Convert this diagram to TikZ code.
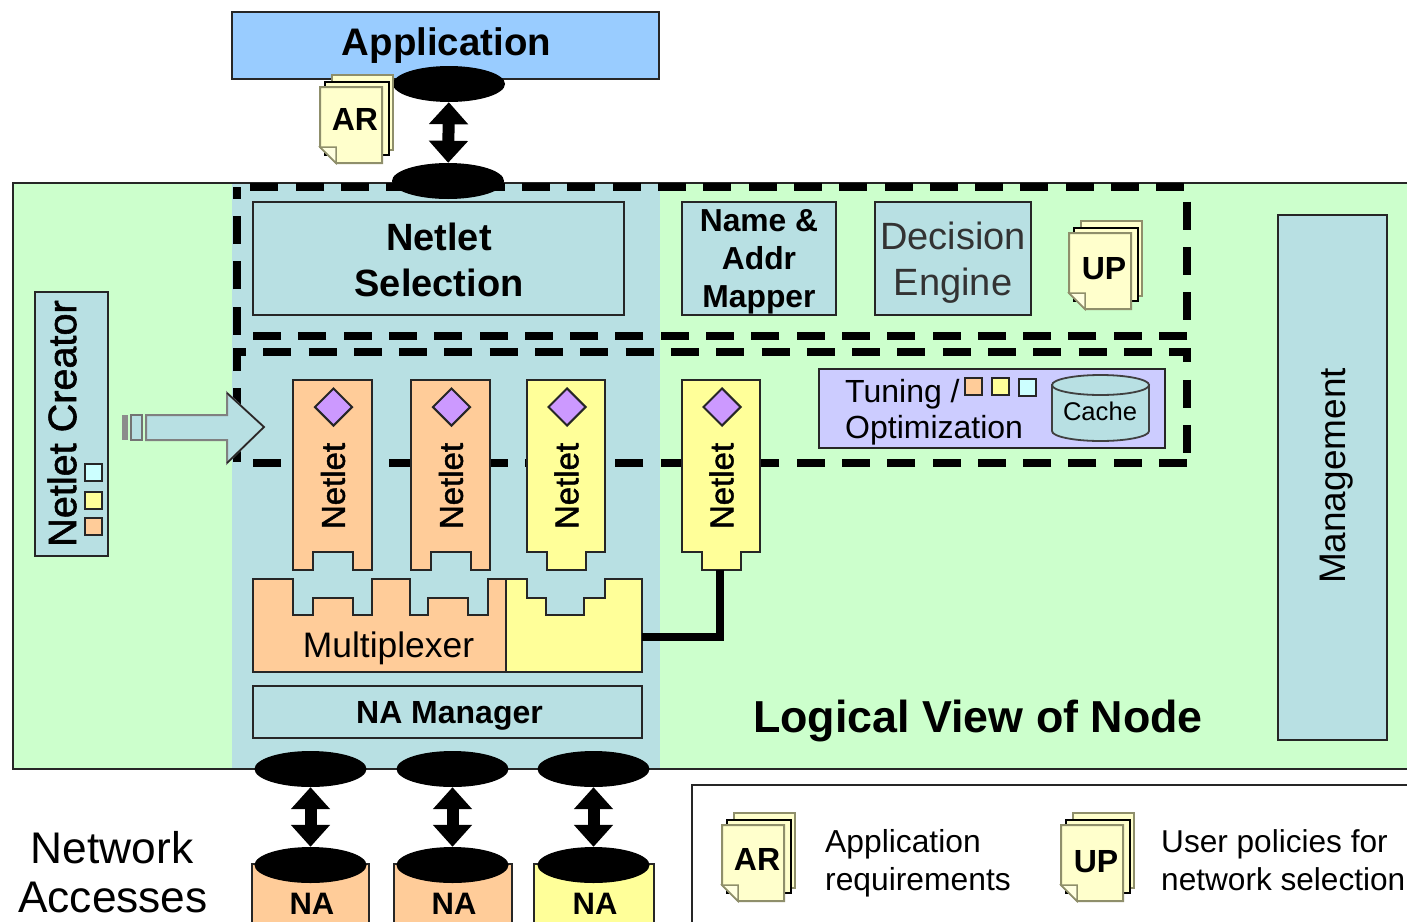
\documentclass[tikz,border=0pt]{standalone}
\usepackage{fontspec}
\setmainfont{Liberation Sans}
\newfontfamily\heavyface[FakeBold=1.4]{Liberation Sans}
\usetikzlibrary{shapes,arrows.meta,positioning}

\definecolor{nodegreen}{HTML}{CCFFCC}
\definecolor{zoneblue}{HTML}{B8E0E3}
\definecolor{appblue}{HTML}{99CCFF}
\definecolor{netorange}{HTML}{FFCC99}
\definecolor{netyellow}{HTML}{FFFF99}
\definecolor{netpurple}{HTML}{CC99FF}
\definecolor{tunelilac}{HTML}{CCCCFF}
\definecolor{netcyan}{HTML}{CCFFFF}
\definecolor{paperfill}{HTML}{FFFFCC}
\definecolor{paperedge}{HTML}{8F8F6B}

\tikzset{
  boxed/.style={draw=black!85, line width=2pt, rectangle, inner sep=0pt, align=center},
  zonebox/.style={boxed, fill=zoneblue},
  port/.style={ellipse, fill=black, inner sep=0pt, minimum width=112pt, minimum height=36pt},
  portlink/.style={line width=12pt, {Triangle[length=22pt,width=38pt]}-{Triangle[length=22pt,width=38pt]}},
  framedash/.style={line width=8.5pt, dash pattern=on 28pt off 17.3pt},
  minisquare/.style={boxed, minimum width=17pt, minimum height=17pt},
  netdiamond/.style={diamond, draw=black!85, line width=2pt, fill=netpurple, inner sep=0pt, minimum width=38pt, minimum height=38pt},
  netlabel/.style={rotate=90, inner sep=0pt, font=\heavyface\fontsize{33}{38}\selectfont},
  plain/.style={inner sep=0pt, align=left}
}

% stack of three sheets: name, x, y, label, label height
\newcommand{\sheetstack}[5]{
  \begin{scope}[shift={(#2,#3)}]
    \draw[line width=2pt, draw=paperedge, fill=paperfill] (12,-12) rectangle (73,63);
    \draw[line width=2pt, draw=black, fill=paperfill] (5,-5) rectangle (69,68);
    \draw[line width=2pt, draw=paperedge, fill=paperfill] (0,0) -- (62,0) -- (62,76) -- (16,76) -- (0,60) -- cycle;
    \draw[line width=1.5pt, draw=paperedge, fill=paperfill!60] (0,60) -- (16,60) -- (16,76) -- cycle;
    \node[inner sep=0pt, font=\fontsize{32}{36}\selectfont\bfseries] (#1) at (35,#5) {#4};
  \end{scope}
}

\begin{document}
\begin{tikzpicture}[x=1pt, y=-1pt]
  \useasboundingbox (0,0) rectangle (1407,921);
  \clip (0,0) rectangle (1407,921);

  % Logical node and the shaded zone
  \node[boxed, fill=nodegreen, minimum width=1414pt, minimum height=586pt] (logicalnode) at (720,476) {};
  \node[fill=zoneblue, inner sep=0pt, minimum width=428pt, minimum height=584pt] (datazone) at (446,476) {};

  % Application on top
  \node[boxed, fill=appblue, minimum width=427pt, minimum height=67pt] (application) at (445.5,45.5) {};
  \node[inner sep=0pt, font=\fontsize{38.4}{44}\selectfont\bfseries] (applabel) at (446.5,46) {Application};

  % Dashed frames
  \draw[framedash] (1187,336) -- (237,336) -- (237,187);
  \draw[framedash, dash phase=32pt] (237,187) -- (1187,187) -- (1187,336);
  \draw[framedash] (1187,463) -- (237,463) -- (237,352) -- (1187,352) -- cycle;

  % Upper row
  \node[zonebox, minimum width=371pt, minimum height=113pt] (selection) at (438.5,258.5) {};
  \node[inner sep=0pt, align=center, font=\fontsize{38}{46}\selectfont\bfseries] (sellabel) at (439,260) {Netlet\\Selection};
  \node[zonebox, minimum width=154pt, minimum height=113pt] (mapper) at (759,258.5) {};
  \node[inner sep=0pt, align=center, font=\fontsize{31.8}{38}\selectfont\bfseries] (maplabel) at (759,262) {Name \&\\Addr\\Mapper};
  \node[zonebox, minimum width=156pt, minimum height=113pt] (decision) at (953,258.5) {};
  \node[inner sep=0pt, align=center, text=black!80, font=\fontsize{38}{46}\selectfont] (declabel) at (953,263) {Decision\\Engine};
  \sheetstack{upsheet}{1069}{233}{UP}{36}

  % Management and creator
  \node[zonebox, minimum width=109pt, minimum height=525pt] (management) at (1332.5,477.5) {};
  \node[rotate=90, inner sep=0pt, font=\fontsize{37}{42}\selectfont] (mgmtlabel) at (1337,476) {Management};
  \node[zonebox, minimum width=73pt, minimum height=264pt] (creator) at (71.5,424) {};
  \node[rotate=90, inner sep=0pt, font=\heavyface\fontsize{39.6}{44}\selectfont] (creatorlabel) at (62,423.5) {Netlet Creator};
  \node[minisquare, fill=netcyan] (creatorc) at (93,472.5) {};
  \node[minisquare, fill=netyellow] (creatory) at (93,500) {};
  \node[minisquare, fill=netorange] (creatoro) at (93,526.5) {};

  % Arrow into the zone
  \fill[black!45] (122,415) rectangle (128,440);
  \draw[line width=1.5pt, draw=black!55, fill=zoneblue] (131,415) rectangle (142,440);
  \draw[line width=2pt, draw=black!50, fill=zoneblue] (146,415) -- (227,415) -- (227,393) -- (264,427) -- (227,463) -- (227,440) -- (146,440) -- cycle;
  \draw[line width=1.5pt, draw=black!85] (227,393) -- (264,427) -- (227,463);

  % Tuning box
  \node[boxed, fill=tunelilac, minimum width=346pt, minimum height=79pt] (tuning) at (992,408.5) {};
  \node[plain, anchor=west, font=\fontsize{32}{36}\selectfont] (tuninglabel) at (845,394) {Tuning /};
  \node[plain, anchor=west, font=\fontsize{32}{36}\selectfont] (optlabel) at (845,430) {Optimization};
  \node[minisquare, fill=netorange] (tuneo) at (973.5,386.5) {};
  \node[minisquare, fill=netyellow] (tuney) at (1000.5,386.5) {};
  \node[minisquare, fill=netcyan] (tunec) at (1027.5,387) {};
  % Cache drum
  \draw[line width=1.8pt, draw=black!75, fill=zoneblue] (1052,385) -- (1052,431) arc[start angle=180, end angle=360, x radius=48.5, y radius=-10] -- (1149,385) -- cycle;
  \draw[line width=1.8pt, draw=black!75, fill=zoneblue] (1100.5,385) ellipse[x radius=48.5, y radius=10];
  \node[inner sep=0pt, font=\fontsize{25.6}{30}\selectfont] (cachelabel) at (1100,411) {Cache};

  % Netlets with a notch
  \foreach \x/\n in {293/a,411/b}{
    \draw[line width=2pt, draw=black!85, fill=netorange, shift={(\x,0)}] (0,380) -- (79,380) -- (79,570) -- (60,570) -- (60,552) -- (20,552) -- (20,570) -- (0,570) -- cycle;
    \node[netdiamond] (diamond\n) at (\x+40.5,407) {};
    \node[netlabel] (netlet\n) at (\x+40,486) {Netlet};
  }
  % Netlets with a tab
  \foreach \x/\n in {527/c,682/d}{
    \draw[line width=2pt, draw=black!85, fill=netyellow, shift={(\x,0)}] (0,380) -- (78,380) -- (78,552) -- (59,552) -- (59,570) -- (20,570) -- (20,552) -- (0,552) -- cycle;
    \node[netdiamond] (diamond\n) at (\x+40,407) {};
    \node[netlabel] (netlet\n) at (\x+39.5,486) {Netlet};
  }

  % Multiplexer
  \draw[line width=2pt, draw=black!85, fill=netorange] (253,579) -- (293,579) -- (293,615) -- (313,615) -- (313,598) -- (353,598) -- (353,615) -- (372,615) -- (372,579) -- (410,579) -- (410,615) -- (428,615) -- (428,598) -- (468,598) -- (468,615) -- (488,615) -- (488,579) -- (506,579) -- (506,672) -- (253,672) -- cycle;
  \draw[line width=2pt, draw=black!85, fill=netyellow] (506,579) -- (527,579) -- (527,598) -- (546,598) -- (546,615) -- (584,615) -- (584,598) -- (605,598) -- (605,579) -- (642,579) -- (642,672) -- (506,672) -- cycle;
  \node[inner sep=0pt, font=\fontsize{35.4}{40}\selectfont] (muxlabel) at (388.5,648) {Multiplexer};
  \coordinate (muxport) at (642,637);
  \coordinate (netlettab) at (720,570);
  \draw[line width=8pt] (muxport) -| (netlettab);

  % NA manager
  \node[zonebox, minimum width=389pt, minimum height=52pt] (manager) at (447.5,712) {};
  \node[inner sep=0pt, font=\fontsize{32}{36}\selectfont\bfseries] (mgrlabel) at (449.5,716) {NA Manager};

  % Link from application to selection
  \node[port] (appport) at (449,84) {};
  \node[port] (selport) at (448,181) {};
  \draw[portlink] (appport) -- (selport);
  \sheetstack{arsheet}{320}{87}{AR}{32}

  % Network accesses
  \foreach \x/\tone/\w/\n in {310.5/netorange/117/a,452.5/netorange/118/b,593.5/netyellow/120/c}{
    \node[boxed, fill=\tone, minimum width=\w pt, minimum height=80pt] (access\n) at (\x,904) {};
    \node[inner sep=0pt, font=\fontsize{31}{36}\selectfont\bfseries] (nalabel\n) at (\x+1.5,904) {NA};
    \node[port] (upper\n) at (\x,769) {};
    \node[port] (lower\n) at (\x,865) {};
    \draw[portlink] (upper\n) -- (lower\n);
  }
  \node[inner sep=0pt, font=\fontsize{44.3}{51}\selectfont] (networklabel) at (112,848) {Network};
  \node[inner sep=0pt, font=\fontsize{44.3}{51}\selectfont] (accesslabel) at (113,897) {Accesses};

  % Title of the node
  \node[inner sep=0pt, font=\fontsize{44.8}{50}\selectfont\bfseries] (nodetitle) at (978,721) {Logical View of Node};

  % Legend
  \node[boxed, fill=white, minimum width=760pt, minimum height=200pt] (legend) at (1072,885) {};
  \sheetstack{arlegend}{722}{825}{AR}{34}
  \sheetstack{uplegend}{1061}{825}{UP}{37}
  \node[plain, anchor=west, font=\fontsize{31.8}{38}\selectfont] (arnote) at (825,863) {Application\\requirements};
  \node[plain, anchor=west, font=\fontsize{31.6}{38}\selectfont] (upnote) at (1161,860) {User policies for\\network selection};
\end{tikzpicture}
\end{document}
